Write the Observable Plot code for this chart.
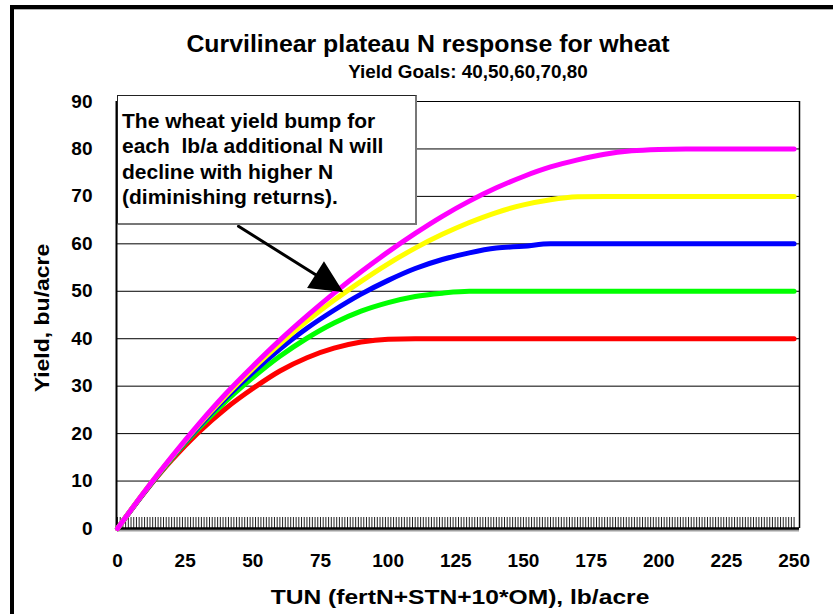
<!DOCTYPE html>
<html><head><meta charset="utf-8">
<script src="https://cdn.jsdelivr.net/npm/d3@7"></script>
<script src="https://cdn.jsdelivr.net/npm/@observablehq/plot@0.6"></script>
<style>
html,body{margin:0;padding:0;background:#fff;}
#chart{position:relative;width:833px;height:614px;overflow:hidden;background:#fff;font-family:"Liberation Sans",Arial,Helvetica,sans-serif;font-weight:bold;color:#000;}
#chart svg{position:absolute;left:0;top:0;}
.t{position:absolute;white-space:nowrap;line-height:1;text-align:center;}
#frame{position:absolute;left:10px;top:5px;width:830px;height:620px;border-top:4px solid #000;border-left:4px solid #000;box-sizing:border-box;pointer-events:none;}
#frameShade{position:absolute;left:14px;top:9px;width:830px;height:1px;background:#b0b0b0;}
#note{position:absolute;left:117px;top:95px;width:300px;height:130px;background:#fff;border-top:1px solid #222;border-left:1px solid #222;border-right:2px solid #777;border-bottom:2px solid #777;box-sizing:border-box;font-size:21px;line-height:25.3px;padding:12px 0 0 4px;white-space:nowrap;}
</style></head><body>
<div id="chart"></div>
<script>
// TUN (fertN+STN+10*OM), lb/acre
const tunN = [0,10,20,30,40,50,60,70,80,90,100,110,120,130,140,150,160,170,180,190,200,210,220,230,240,250];
// yield (bu/acre), one array per yield goal
const yield40 = [0,7.6,14.4,20.3,25.3,29.5,33.2,36.0,38.0,39.3,39.9,40,40,40,40,40,40,40,40,40,40,40,40,40,40,40];
const yield50 = [0,7.7,14.7,21.1,26.8,31.8,36.3,40.1,43.3,45.8,47.6,48.9,49.6,50,50,50,50,50,50,50,50,50,50,50,50,50];
const yield60 = [0,7.7,14.9,21.5,27.5,32.9,37.8,42.2,46.0,49.4,52.3,54.8,56.7,58.1,59.1,59.5,60,60,60,60,60,60,60,60,60,60];
const yield70 = [0,7.8,15.0,21.8,28.0,33.7,38.9,43.7,48.1,52.1,55.8,59.1,62.0,64.5,66.6,68.2,69.3,69.9,70,70,70,70,70,70,70,70];
const yield80 = [0,7.8,15.1,22.0,28.4,34.2,39.7,44.8,49.6,54.1,58.3,62.2,65.8,69.0,71.8,74.2,76.2,77.7,78.9,79.6,79.9,80,80,80,80,80];
const goals = [40,50,60,70,80];
const goalColors = ["#ff0000","#00ff00","#0000ff","#ffff00","#ff00ff"];
const yTicks = [0,10,20,30,40,50,60,70,80,90];
const xTicks = [0,25,50,75,100,125,150,175,200,225,250];
const gridValues = [10,20,30,40,50,60,70,80,90];
// annotation arrow (data coordinates)
const arrowTail = [{n:44.7, y:63.7}];
const arrowTip = [{n:82.4, y:50.2}];

const series = [yield40, yield50, yield60, yield70, yield80];
const table = [];
series.forEach((vals, i) => vals.forEach((v, j) => table.push({n: tunN[j], y: v, goal: goals[i]})));
const minorTicks = d3.range(0, 251); // one tick per lb/acre category

const W = 833, H = 614, ML = 117, MR = 34, MT = 101, MB = 86, XMAX = 252, YMAX = 90;
const kx = (W - ML - MR) / XMAX, ky = (H - MT - MB) / YMAX;
const dxp = (arrowTip[0].n - arrowTail[0].n) * kx, dyp = -(arrowTip[0].y - arrowTail[0].y) * ky;
const arrowLen = Math.hypot(dxp, dyp);
const arrowAngle = Math.atan2(dxp, -dyp) * 180 / Math.PI;
const headShape = {draw(ctx, l) {
  const h = 28, w = 13.5;
  ctx.moveTo(0, 0); ctx.lineTo(0, -(l - h + 2));
  ctx.moveTo(0, -l); ctx.lineTo(w, -l + h); ctx.lineTo(-w, -l + h); ctx.closePath();
}};

const plot = Plot.plot({
  width: W, height: H,
  marginLeft: ML, marginRight: MR, marginTop: MT, marginBottom: MB,
  x: {domain: [0, XMAX]},
  y: {domain: [0, YMAX]},
  color: {domain: goals, range: goalColors},
  style: {background: "transparent", fontFamily: '"Liberation Sans", Arial, sans-serif', color: "#000", overflow: "visible"},
  marks: [
    Plot.ruleY(gridValues, {stroke: "#000", strokeWidth: 1}),
    Plot.ruleX([XMAX], {y1: 0, y2: YMAX, stroke: "#000", strokeWidth: 1.5}),
    Plot.ruleX(minorTicks, {x: d => d, y1: 0, y2: 11 / ky, stroke: "#222", strokeWidth: 1}),
    Plot.ruleY([0], {stroke: "#a0a0a0", strokeWidth: 2, dy: 2}),
    Plot.ruleY([0], {stroke: "#000", strokeWidth: 2.5}),
    Plot.ruleX([0], {y1: 0, y2: YMAX, stroke: "#000", strokeWidth: 2, dx: -1}),
    Plot.line(table, {x: "n", y: "y", z: "goal", stroke: "goal", strokeWidth: 5, curve: "monotone-x", strokeLinecap: "round", strokeLinejoin: "round"}),
    Plot.vector(arrowTip, {x: "n", y: "y", anchor: "end", length: arrowLen, rotate: arrowAngle, shape: headShape, stroke: "#000", fill: "#000", strokeWidth: 3, strokeLinejoin: "miter"}),
    Plot.axisY({ticks: yTicks, tickSize: 0, tickPadding: 25, fontSize: 19, fontWeight: "bold", label: null}),
    Plot.axisX({ticks: xTicks, tickSize: 0, tickPadding: 25, fontSize: 19, fontWeight: "bold", label: null})
  ]
});

const chart = document.getElementById("chart");
chart.appendChild(plot);
const add = (html, css, cls) => { const d = document.createElement("div"); if (cls) d.className = cls; d.innerHTML = html; Object.assign(d.style, css); chart.appendChild(d); return d; };
add("Curvilinear plateau N response for wheat", {left: "128px", top: "32.5px", width: "600px", fontSize: "23px", transform: "scaleX(1.08)"}, "t");
add("Yield Goals: 40,50,60,70,80", {left: "168px", top: "63.3px", width: "600px", fontSize: "18.5px", transform: "scaleX(1.02)"}, "t");
add("TUN (fertN+STN+10*OM), lb/acre", {left: "160px", top: "587px", width: "600px", fontSize: "20px", transform: "scaleX(1.23)"}, "t");
add("Yield, bu/acre", {left: "-108px", top: "308px", width: "300px", height: "20px", fontSize: "20px", transform: "rotate(-90deg) scaleX(1.15)"}, "t");
const note = document.createElement("div"); note.id = "note";
note.innerHTML = "The wheat yield bump for<br>each&nbsp; lb/a additional N will<br>decline with higher N<br>(diminishing returns).";
chart.appendChild(note);
const fr = document.createElement("div"); fr.id = "frame"; chart.appendChild(fr);
const fs = document.createElement("div"); fs.id = "frameShade"; chart.appendChild(fs);
</script>
</body></html>
